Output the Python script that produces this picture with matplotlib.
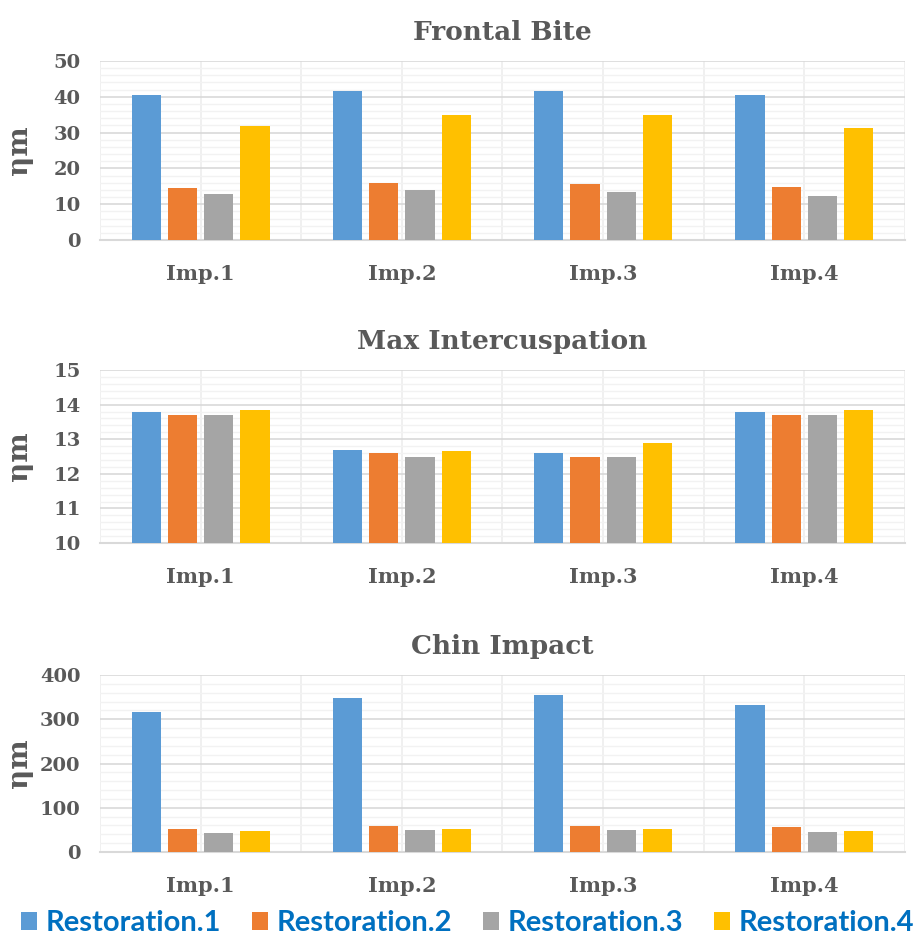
import numpy as np
import matplotlib
matplotlib.use("Agg")
import matplotlib.pyplot as plt
from matplotlib.ticker import MultipleLocator
from matplotlib.patches import Patch

impressions = ["Imp.1", "Imp.2", "Imp.3", "Imp.4"]
restorations = ["Restoration.1", "Restoration.2", "Restoration.3", "Restoration.4"]
colors = ["#5B9BD5", "#ED7D31", "#A5A5A5", "#FFC000"]

# rows = restorations, columns = impressions
frontal_bite = [
    [40.5, 41.5, 41.5, 40.5],
    [14.4, 16.0, 15.7, 14.8],
    [12.8, 13.9, 13.3, 12.4],
    [31.8, 34.9, 34.9, 31.4],
]
max_intercuspation = [
    [13.8, 12.7, 12.6, 13.8],
    [13.7, 12.6, 12.5, 13.7],
    [13.7, 12.5, 12.5, 13.7],
    [13.85, 12.65, 12.9, 13.85],
]
chin_impact = [
    [316, 347, 355, 332],
    [53, 59, 59, 56],
    [44, 49, 49, 45],
    [47, 51, 53, 47],
]

panels = [
    ("Frontal Bite", frontal_bite, (0, 50), 10),
    ("Max Intercuspation", max_intercuspation, (10, 15), 1),
    ("Chin Impact", chin_impact, (0, 400), 100),
]

text_gray = "#595959"
serif = "DejaVu Serif"

fig = plt.figure(figsize=(9.21, 9.40), dpi=100)
ax_boxes = [
    [0.1086, 0.7447, 0.874, 0.1904],
    [0.1086, 0.4223, 0.874, 0.1841],
    [0.1086, 0.0936, 0.874, 0.1883],
]

x = np.arange(len(impressions))
width = 0.145
step = 0.18

for (title, data, ylim, major), box in zip(panels, ax_boxes):
    ax = fig.add_axes(box)
    ax.set_axisbelow(True)
    base = ylim[0]
    for i, vals in enumerate(data):
        # bars start at the bottom of the value axis
        ax.bar(x + (i - 1.5) * step, np.array(vals) - base, width,
               bottom=base, color=colors[i], zorder=3)
    ax.set_xlim(-0.5, 3.5)
    ax.set_ylim(*ylim)
    ax.yaxis.set_major_locator(MultipleLocator(major))
    ax.yaxis.set_minor_locator(MultipleLocator(major / 5))
    ax.xaxis.set_minor_locator(MultipleLocator(0.5))
    ax.set_xticks(x)
    ax.set_xticklabels(impressions)
    ax.grid(which="major", axis="y", color="#D9D9D9", lw=1.2)
    ax.grid(which="minor", axis="y", color="#F2F2F2", lw=1.0)
    ax.grid(which="both", axis="x", color="#EDEDED", lw=1.2)
    for s in ["top", "right", "left"]:
        ax.spines[s].set_visible(False)
    ax.spines["bottom"].set_color("#D9D9D9")
    ax.spines["bottom"].set_linewidth(1.5)
    ax.tick_params(which="both", length=0)
    ax.tick_params(axis="x", pad=17)
    ax.tick_params(axis="y", pad=14)
    for lab in ax.get_xticklabels():
        lab.set_fontsize(15)
    for lab in ax.get_yticklabels():
        lab.set_fontsize(14)
    for lab in ax.get_xticklabels() + ax.get_yticklabels():
        lab.set_fontfamily(serif)
        lab.set_fontweight("bold")
        lab.set_color(text_gray)
    ax.set_title(title, fontfamily=serif, fontweight="bold", fontsize=19,
                 color=text_gray, pad=15)
    ax.set_ylabel("ηm", fontfamily=serif, fontweight="bold", fontsize=20,
                  color=text_gray)
    ax.yaxis.set_label_coords(-0.083, 0.5)

handles = [Patch(facecolor=c, edgecolor="none") for c in colors]
leg = fig.legend(handles, restorations, loc="lower center", ncol=4,
                 bbox_to_anchor=(0.508, -0.024), frameon=False,
                 prop={"family": "Lato", "weight": "bold", "size": 21},
                 handlelength=0.55, handleheight=0.55, handletextpad=0.3,
                 columnspacing=1.05)
for t in leg.get_texts():
    t.set_color("#0070C0")

fig.savefig("out.png", dpi=100)
